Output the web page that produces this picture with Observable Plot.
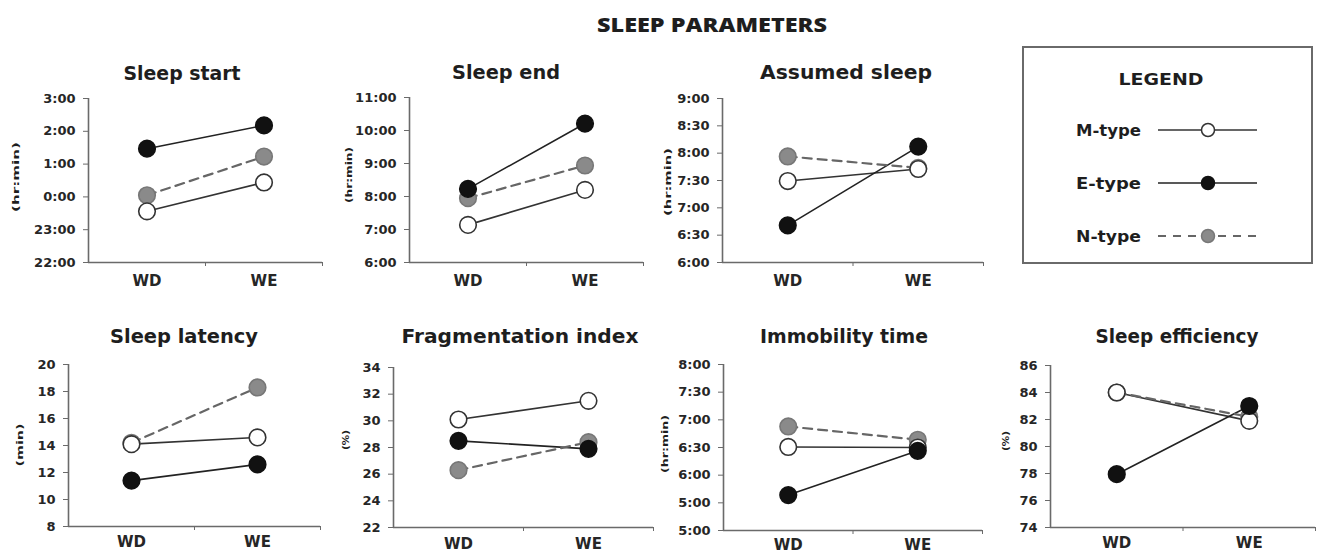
<!DOCTYPE html>
<html>
<head>
<meta charset="utf-8">
<script src="https://cdn.jsdelivr.net/npm/d3@7"></script>
<script src="https://cdn.jsdelivr.net/npm/@observablehq/plot@0.6"></script>
<style>
  html, body { margin: 0; padding: 0; background: #fff; }
  #chart { position: relative; width: 1325px; height: 557px; overflow: hidden; background: #fff; }
  #chart svg { position: absolute; }
  #overlay text { font-family: "DejaVu Sans", sans-serif; font-weight: bold; fill: #1e1e1e; }
</style>
</head>
<body>
<div id="chart"></div>
<script>
// ---------------- DATA ----------------
const categories = ["WD", "WE"];
const groups = ["M-type", "E-type", "N-type"];

// Sleep start (hours relative to midnight; negative = previous evening)
const sleepStartM = [-0.44, 0.44];
const sleepStartE = [1.47, 2.18];
const sleepStartN = [0.05, 1.23];
const sleepStartTicks = [-2, -1, 0, 1, 2, 3];
const sleepStartLabels = ["22:00", "23:00", "0:00", "1:00", "2:00", "3:00"];

// Sleep end (hours)
const sleepEndM = [7.14, 8.20];
const sleepEndE = [8.23, 10.21];
const sleepEndN = [7.95, 8.94];
const sleepEndTicks = [6, 7, 8, 9, 10, 11];
const sleepEndLabels = ["6:00", "7:00", "8:00", "9:00", "10:00", "11:00"];

// Assumed sleep (hours)
const assumedM = [7.49, 7.71];
const assumedE = [6.68, 8.12];
const assumedN = [7.94, 7.73];
const assumedTicks = [6, 6.5, 7, 7.5, 8, 8.5, 9];
const assumedLabels = ["6:00", "6:30", "7:00", "7:30", "8:00", "8:30", "9:00"];

// Sleep latency (min)
const latencyM = [14.1, 14.6];
const latencyE = [11.4, 12.6];
const latencyN = [14.2, 18.3];
const latencyTicks = [8, 10, 12, 14, 16, 18, 20];
const latencyLabels = ["8", "10", "12", "14", "16", "18", "20"];

// Fragmentation index (%)
const fragM = [30.1, 31.5];
const fragE = [28.5, 27.9];
const fragN = [26.3, 28.4];
const fragTicks = [22, 24, 26, 28, 30, 32, 34];
const fragLabels = ["22", "24", "26", "28", "30", "32", "34"];

// Immobility time (hours)
const immobM = [6.51, 6.50];
const immobE = [5.64, 6.44];
const immobN = [6.88, 6.64];
const immobTicks = [5, 5.5, 6, 6.5, 7, 7.5, 8];
const immobLabels = ["5:00", "5:00", "6:00", "6:30", "7:00", "7:30", "8:00"];

// Sleep efficiency (%)
const effM = [84.0, 81.9];
const effE = [77.95, 83.0];
const effN = [84.0, 82.2];
const effTicks = [74, 76, 78, 80, 82, 84, 86];
const effLabels = ["74", "76", "78", "80", "82", "84", "86"];

// ---------------- LAYOUT / STYLE ----------------
const groupStyle = {
  "M-type": {stroke: "#333", dash: null, fill: "#ffffff", dotStroke: "#333"},
  "E-type": {stroke: "#222", dash: null, fill: "#111111", dotStroke: "#111"},
  "N-type": {stroke: "#666", dash: "9,6", fill: "#8a8a8a", dotStroke: "#777"}
};
const catPos = {WD: 1, WE: 3}; // position on a 0..4 x scale

const panels = [
  {title: "Sleep start", unit: "(hr:min)", vals: [sleepStartM, sleepStartE, sleepStartN], ticks: sleepStartTicks, labels: sleepStartLabels,
   x0: 88, x1: 322, yT: 98, yB: 262, tx: 182, ty: 80, tw: 117, ux: 15, uy: 177, uw: 70, xpad: 13},
  {title: "Sleep end", unit: "(hr:min)", vals: [sleepEndM, sleepEndE, sleepEndN], ticks: sleepEndTicks, labels: sleepEndLabels,
   x0: 409, x1: 643, yT: 97, yB: 262, tx: 506, ty: 79, tw: 108, ux: 348, uy: 175, uw: 56, xpad: 13},
  {title: "Assumed sleep", unit: "(hr:min)", vals: [assumedM, assumedE, assumedN], ticks: assumedTicks, labels: assumedLabels,
   x0: 722, x1: 983, yT: 98, yB: 262, tx: 846, ty: 79, tw: 172, ux: 667, uy: 182, uw: 68, xpad: 13},
  {title: "Sleep latency", unit: "(min)", vals: [latencyM, latencyE, latencyN], ticks: latencyTicks, labels: latencyLabels,
   x0: 68, x1: 320, yT: 364, yB: 526, tx: 184, ty: 343, tw: 148, ux: 19, uy: 445, uw: 43, xpad: 10},
  {title: "Fragmentation index", unit: "(%)", vals: [fragM, fragE, fragN], ticks: fragTicks, labels: fragLabels,
   x0: 393, x1: 653, yT: 367, yB: 527, tx: 520, ty: 343, tw: 237, ux: 345, uy: 440, uw: 20, xpad: 11},
  {title: "Immobility time", unit: "(hr:min)", vals: [immobM, immobE, immobN], ticks: immobTicks, labels: immobLabels,
   x0: 723, x1: 982, yT: 364, yB: 530, tx: 844, ty: 343, tw: 168, ux: 664, uy: 444, uw: 58, xpad: 9},
  {title: "Sleep efficiency", unit: "(%)", vals: [effM, effE, effN], ticks: effTicks, labels: effLabels,
   x0: 1050, x1: 1315, yT: 365, yB: 527, tx: 1177, ty: 343, tw: 163, ux: 1005, uy: 441, uw: 20, xpad: 10}
];

const chart = document.getElementById("chart");
const ML = 64, MR = 12, MT = 14, MB = 30;

for (const p of panels) {
  const lo = p.ticks[0], hi = p.ticks[p.ticks.length - 1];
  const rows = [];
  groups.forEach((g, gi) => categories.forEach((c, ci) => rows.push({group: g, cat: c, xv: catPos[c], v: p.vals[gi][ci], fill: groupStyle[g].fill, dotStroke: groupStyle[g].dotStroke})));
  const labelMap = new Map(p.ticks.map((t, i) => [t, p.labels[i]]));
  const lineMarks = groups.map(g => Plot.line(rows.filter(r => r.group === g), {
    x: "xv", y: "v", stroke: groupStyle[g].stroke, strokeWidth: g === "N-type" ? 2.2 : 1.6,
    strokeDasharray: groupStyle[g].dash || undefined
  }));
  const dotOrder = ["N-type", "M-type", "E-type"];
  const dotRows = dotOrder.flatMap(g => rows.filter(r => r.group === g));
  const svg = Plot.plot({
    width: (p.x1 - p.x0) + ML + MR,
    height: (p.yB - p.yT) + MT + MB,
    marginLeft: ML, marginRight: MR, marginTop: MT, marginBottom: MB,
    x: {domain: [0, 4]},
    y: {domain: [lo, hi]},
    color: {type: "identity"},
    style: {background: "transparent", overflow: "visible", fontFamily: "'DejaVu Sans', sans-serif", fontWeight: "bold", fontSize: "13px", color: "#262626"},
    marks: [
      Plot.ruleX([0], {y1: lo, y2: hi, stroke: "#6a6a6a", strokeWidth: 1.6}),
      Plot.ruleY([lo], {x1: 0, x2: 4, stroke: "#6a6a6a", strokeWidth: 1.6}),
      Plot.axisY(p.ticks, {tickFormat: d => labelMap.get(d), tickSize: 5, tickPadding: 8, stroke: "#6a6a6a", label: null, fontSize: 13}),
      Plot.axisX([2, 4], {tickFormat: () => "", tickSize: 4, stroke: "#6a6a6a", label: null}),
      Plot.axisX([1, 3], {tickFormat: d => categories[(d - 1) / 2], tickSize: 0, tickPadding: p.xpad, label: null, fontSize: 15}),
      ...lineMarks,
      Plot.dot(dotRows, {x: "xv", y: "v", r: 8.3, fill: "fill", stroke: "dotStroke", strokeWidth: 1.6})
    ]
  });
  svg.style.left = (p.x0 - ML) + "px";
  svg.style.top = (p.yT - MT) + "px";
  chart.appendChild(svg);
}

// ---------------- OVERLAY TEXTS + LEGEND ----------------
const ov = d3.select(chart).append("svg").attr("id", "overlay")
  .attr("width", 1325).attr("height", 557).style("left", "0px").style("top", "0px");

ov.append("text").attr("x", 712).attr("y", 32).attr("text-anchor", "middle")
  .attr("textLength", 230).attr("lengthAdjust", "spacingAndGlyphs")
  .style("font-family", "'Open Sans', sans-serif").style("font-weight", "800").style("font-size", "20px").text("SLEEP PARAMETERS");

for (const p of panels) {
  ov.append("text").attr("x", p.tx).attr("y", p.ty).attr("text-anchor", "middle")
    .attr("textLength", p.tw).attr("lengthAdjust", "spacingAndGlyphs")
    .style("font-size", "19px").text(p.title);
  ov.append("text").attr("transform", `translate(${p.ux + 3.5},${p.uy}) rotate(-90)`)
    .attr("text-anchor", "middle").attr("textLength", p.uw).attr("lengthAdjust", "spacingAndGlyphs")
    .style("font-size", "9px").text(p.unit);
}

// legend
const lg = ov.append("g");
lg.append("rect").attr("x", 1023).attr("y", 47).attr("width", 289).attr("height", 216)
  .attr("fill", "none").attr("stroke", "#6a6a6a").attr("stroke-width", 2);
lg.append("text").attr("x", 1161).attr("y", 85).attr("text-anchor", "middle")
  .attr("textLength", 85).attr("lengthAdjust", "spacingAndGlyphs").style("font-size", "16px").text("LEGEND");
const legendY = [130, 183, 236];
groups.forEach((g, i) => {
  const y = legendY[i];
  const s = groupStyle[g];
  lg.append("text").attr("x", 1076).attr("y", y + 6).attr("textLength", 65).attr("lengthAdjust", "spacingAndGlyphs")
    .style("font-size", "16px").text(g);
  lg.append("line").attr("x1", 1158).attr("x2", 1257).attr("y1", y).attr("y2", y)
    .attr("stroke", s.stroke).attr("stroke-width", g === "N-type" ? 2.2 : 1.6)
    .attr("stroke-dasharray", g === "N-type" ? "8,7" : null);
  lg.append("circle").attr("cx", 1208).attr("cy", y).attr("r", 6.5)
    .attr("fill", s.fill).attr("stroke", s.dotStroke).attr("stroke-width", 1.5);
});
</script>
</body>
</html>
